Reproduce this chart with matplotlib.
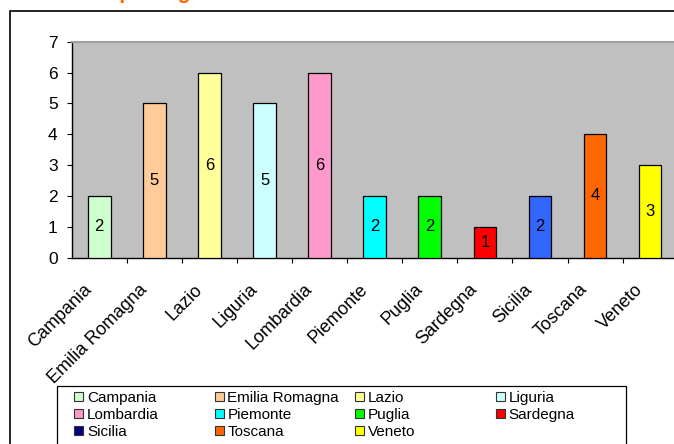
import matplotlib
matplotlib.use('Agg')
import numpy as np
import matplotlib.pyplot as plt
from matplotlib.patches import Rectangle, Patch
from matplotlib.transforms import ScaledTranslation

plt.rcParams['font.family'] = ['Liberation Sans', 'DejaVu Sans']

regioni = ['Campania', 'Emilia Romagna', 'Lazio', 'Liguria', 'Lombardia',
           'Piemonte', 'Puglia', 'Sardegna', 'Sicilia', 'Toscana', 'Veneto']
valori = [2, 5, 6, 5, 6, 2, 2, 1, 2, 4, 3]
colori_barre = ['#CCFFCC', '#FFCC99', '#FFFF99', '#CCFFFF', '#FF99CC',
                '#00FFFF', '#00FF00', '#FF0000', '#3366FF', '#FF6600', '#FFFF00']
# nella legenda Sicilia ha un colore diverso (blu scuro)
colori_legenda = ['#CCFFCC', '#FFCC99', '#FFFF99', '#CCFFFF', '#FF99CC',
                  '#00FFFF', '#00FF00', '#FF0000', '#000080', '#FF6600', '#FFFF00']
titolo = 'Strutture per regione'

W, H = 674, 444
fig = plt.figure(figsize=(W / 100, H / 100), dpi=100)

# cornice esterna del grafico
fig.patches.append(Rectangle((10 / W, -0.2), 1.2, 1 - 11 / H + 0.2,
                             transform=fig.transFigure, fill=False,
                             edgecolor='black', linewidth=1.2))
# titolo tagliato in alto come nell'originale
fig.text(25 / W, 1 + 1 / H, titolo, color='#FF6600', fontsize=15,
         fontweight='bold', va='baseline', ha='left')

ax = fig.add_axes([71.7 / W, 1 - 257.7 / H, 606 / W, (257.7 - 41.7) / H])
ax.set_facecolor('#C0C0C0')

x = np.arange(len(regioni))
bars = ax.bar(x, valori, 0.41, color=colori_barre, edgecolor='black',
              linewidth=0.9, zorder=3)
ax.bar_label(bars, label_type='center', fontsize=12)

ax.set_xlim(-0.5, len(regioni) - 0.5)
ax.set_ylim(0, 7)
ax.set_yticks(range(0, 8))
ax.tick_params(axis='y', length=3.6, width=0.8, pad=6.5, labelsize=12.5,
               direction='out')

ax.set_xticks(x)
ax.set_xticklabels(regioni, rotation=45, ha='right', va='center',
                   rotation_mode='anchor', fontsize=13)
ax.tick_params(axis='x', which='major', length=0, pad=21)
ax.set_xticks(np.arange(0.5, len(regioni) - 0.5, 1), minor=True)
ax.tick_params(axis='x', which='minor', length=3.6, width=0.8,
               direction='out')
off = ScaledTranslation(-10 / 100, 0, fig.dpi_scale_trans)
for lab in ax.get_xticklabels():
    lab.set_transform(lab.get_transform() + off)

for s in ['left', 'bottom']:
    ax.spines[s].set_linewidth(1.0)
    ax.spines[s].set_color('black')
ax.spines['top'].set_color('#A0A0A0')
ax.spines['top'].set_linewidth(1.5)
ax.spines['right'].set_visible(False)

# riquadro della legenda
fig.patches.append(Rectangle((57 / W, -0.2), (626 - 57) / W, 1 - 386 / H + 0.2,
                             transform=fig.transFigure, fill=False,
                             edgecolor='black', linewidth=0.9))

handles = [Patch(facecolor=c, edgecolor='#333333', linewidth=0.8, label=r)
           for c, r in zip(colori_legenda, regioni)]
colonne_x = [74, 214.5, 355, 495.5]
for j, cx in enumerate(colonne_x):
    hh = handles[j::4]
    fig.legend(handles=hh, loc='upper left',
               bbox_to_anchor=(cx / W, 1 - 391 / H),
               frameon=False, fontsize=11, borderpad=0, borderaxespad=0,
               handlelength=0.6, handleheight=0.6, handletextpad=0.25,
               labelspacing=0.19)

fig.savefig('out.png', dpi=100)
